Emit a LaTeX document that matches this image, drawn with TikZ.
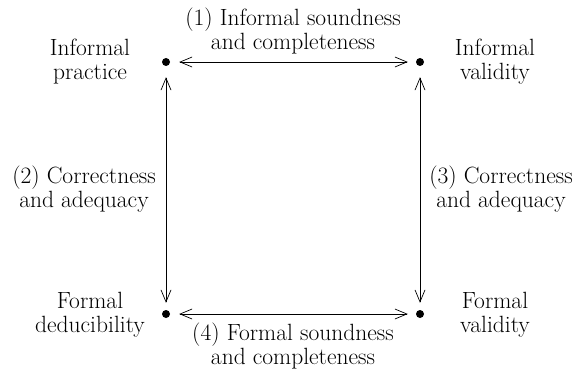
\documentclass[tikz,border=0pt]{standalone}
\usetikzlibrary{arrows.meta}
\begin{document}
\begin{tikzpicture}[x=1pt,y=-1pt,
 dot/.style={circle,fill,inner sep=0pt,minimum size=8pt},
 lbl/.style={align=center,font=\fontsize{23.5}{24}\selectfont,inner sep=0pt},
 tip/.tip={Straight Barb[length=12pt,width=10pt]},
 link/.style={tip-tip, line width=0.7pt}]
\useasboundingbox (0,0) rectangle (575,369);
\node[dot] (ip) at (166,62) {};
\node[dot] (iv) at (420,62) {};
\node[dot] (fd) at (166,314) {};
\node[dot] (fv) at (420,314) {};
\node[lbl] (tip1) at (90,62) {Informal\\practice};
\node[lbl] (tiv) at (495,62) {Informal\\validity};
\node[lbl] (tfd) at (90,315) {Formal\\deducibility};
\node[lbl] (tfv) at (495,315) {Formal\\validity};
\node[lbl] (l1) at (293,31) {(1) Informal soundness\\and completeness};
\node[lbl] (l2) at (84,189) {(2) Correctness\\and adequacy};
\node[lbl] (l3) at (501,189) {(3) Correctness\\and adequacy};
\node[lbl] (l4) at (293,346) {(4) Formal soundness\\and completeness};
\draw[link,shorten <=9pt,shorten >=8pt] (ip) -- (iv);
\draw[link,shorten <=9pt,shorten >=8pt] (fd) -- (fv);
\draw[link,shorten <=11pt,shorten >=7pt] (ip) -- (fd);
\draw[link,shorten <=11pt,shorten >=7pt] (iv) -- (fv);
\end{tikzpicture}
\end{document}
